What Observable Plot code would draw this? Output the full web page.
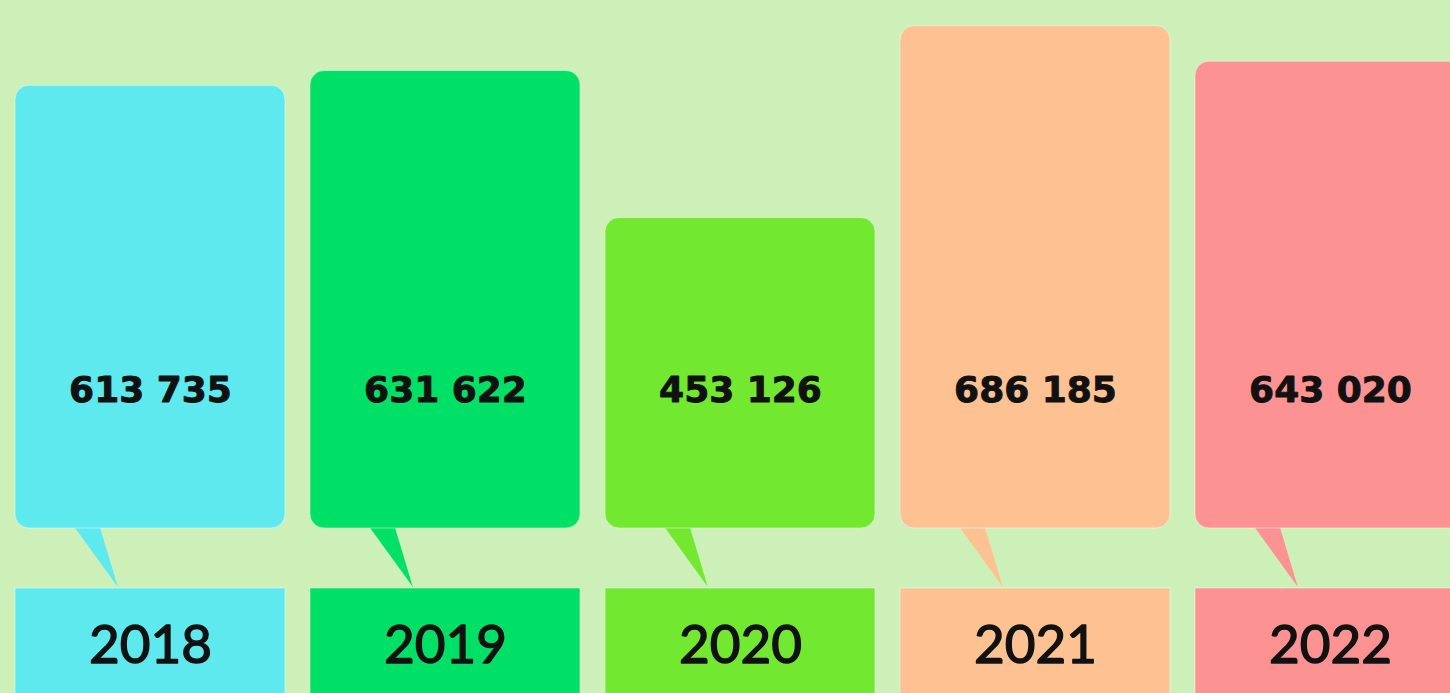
<!DOCTYPE html>
<html>
<head>
<meta charset="utf-8">
<script src="https://cdn.jsdelivr.net/npm/d3@7"></script>
<script src="https://cdn.jsdelivr.net/npm/@observablehq/plot@0.6"></script>
<style>
  html, body { margin: 0; padding: 0; background: #cdf0b9; overflow: hidden; }
</style>
</head>
<body>
<div id="chart"></div>
<script>
// ---- data ----
const years = ["2018", "2019", "2020", "2021", "2022"];
const values = [613735, 631622, 453126, 686185, 643020];
const colors = ["#5de9ee", "#00e067", "#73e830", "#fec192", "#fd9292"];

// ---- scale settings ----
const Y_DOMAIN = [76000, 717300];

const data = years.map((year, i) => ({year, value: values[i]}));
const fmt = d3.formatLocale({thousands: "\u00a0", grouping: [3], decimal: ",", currency: ["", ""]}).format(",");

function tailsAndBoxes(index, scales, vals, dimensions) {
  const g = d3.create("svg:g");
  const x = scales.x;
  const bw = x.bandwidth ? x.bandwidth() : 270;
  const base = dimensions.height - dimensions.marginBottom;
  years.forEach((year, i) => {
    const left = x(year);
    g.append("rect")
      .attr("x", left).attr("y", base + 60)
      .attr("width", bw).attr("height", dimensions.marginBottom)
      .attr("fill", colors[i])
      .attr("stroke", "#ffffff").attr("stroke-opacity", 0.45).attr("stroke-width", 1);
    g.append("path")
      .attr("d", `M${left + bw * 0.196},${base - 10}L${left + bw * 0.304},${base - 10}L${left + bw * 0.381},${base + 59}Z`)
      .attr("fill", colors[i]);
  });
  return g.node();
}

const chart = Plot.plot({
  width: 1450,
  height: 693,
  marginTop: 0,
  marginBottom: 165,
  marginLeft: 0,
  marginRight: 0,
  style: {background: "#cdf0b9", fontFamily: "Lato, sans-serif", overflow: "hidden"},
  x: {domain: years, range: [15, 1465], paddingInner: 25 / 295, paddingOuter: 0, round: false, axis: null},
  y: {domain: Y_DOMAIN, range: [528, 0], axis: null},
  color: {domain: years, range: colors},
  marks: [
    tailsAndBoxes,
    Plot.barY(data, {
      x: "year", y1: Y_DOMAIN[0], y2: "value", fill: "year", rx: 14,
      stroke: "#ffffff", strokeOpacity: 0.45, strokeWidth: 1
    }),
    Plot.text(data, {
      x: "year", text: d => fmt(d.value), frameAnchor: "bottom", dy: -127,
      fontSize: 36, fontWeight: "bold", fontFamily: "DejaVu Sans", fill: "#111111",
      stroke: "#111111", strokeWidth: 0.9
    }),
    Plot.text(data, {
      x: "year", text: "year", frameAnchor: "bottom", dy: 134,
      fontSize: 53, fontWeight: "normal", fontFamily: "Lato", fill: "#111111",
      stroke: "#111111", strokeWidth: 1.4
    })
  ]
});
document.getElementById("chart").append(chart);
</script>
</body>
</html>
